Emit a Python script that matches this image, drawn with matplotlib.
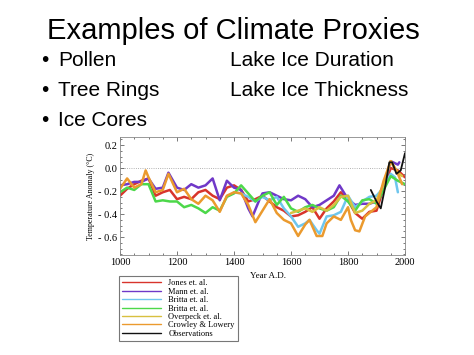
import matplotlib
matplotlib.use("Agg")
import matplotlib.pyplot as plt
from matplotlib.ticker import MultipleLocator

# ---- data ----
jones_years = [1000,1025,1050,1075,1100,1125,1150,1175,1200,1225,1250,1275,1300,1325,1350,1375,1400,1425,1450,1475,1500,1525,1550,1575,1600,1625,1650,1675,1700,1725,1750,1775,1800,1825,1850,1875,1900,1925,1950,1975,2000]
jones_vals = [-0.24,-0.18,-0.14,-0.11,-0.09,-0.24,-0.21,-0.19,-0.27,-0.25,-0.27,-0.21,-0.19,-0.24,-0.27,-0.17,-0.15,-0.19,-0.29,-0.27,-0.24,-0.29,-0.34,-0.37,-0.42,-0.41,-0.38,-0.34,-0.44,-0.35,-0.29,-0.21,-0.28,-0.39,-0.44,-0.38,-0.37,-0.17,0.0,-0.02,-0.08]

mann_years = [1000,1025,1050,1075,1100,1125,1150,1170,1200,1225,1250,1275,1300,1325,1350,1375,1400,1425,1450,1465,1490,1500,1525,1550,1575,1600,1625,1650,1675,1700,1725,1750,1770,1800,1825,1850,1875,1900,1925,1950,1975,1980]
mann_vals = [-0.15,-0.14,-0.12,-0.12,-0.09,-0.18,-0.17,-0.04,-0.17,-0.19,-0.14,-0.17,-0.15,-0.09,-0.28,-0.11,-0.17,-0.19,-0.35,-0.42,-0.27,-0.22,-0.21,-0.24,-0.27,-0.28,-0.24,-0.27,-0.34,-0.32,-0.28,-0.24,-0.15,-0.27,-0.32,-0.31,-0.31,-0.29,-0.17,0.06,0.03,0.05]

britta1_years = [1400,1425,1450,1475,1500,1525,1550,1575,1600,1625,1650,1665,1690,1700,1725,1750,1775,1800,1825,1850,1875,1900,1925,1950,1965,1975]
britta1_vals = [-0.21,-0.22,-0.25,-0.29,-0.25,-0.28,-0.25,-0.35,-0.42,-0.51,-0.48,-0.45,-0.54,-0.57,-0.42,-0.41,-0.38,-0.24,-0.34,-0.29,-0.25,-0.24,-0.17,-0.05,-0.08,-0.21]

britta2_years = jones_years
britta2_vals = [-0.21,-0.17,-0.19,-0.14,-0.14,-0.29,-0.28,-0.29,-0.29,-0.34,-0.32,-0.35,-0.39,-0.34,-0.37,-0.25,-0.22,-0.15,-0.22,-0.29,-0.24,-0.21,-0.32,-0.25,-0.35,-0.38,-0.34,-0.32,-0.35,-0.37,-0.34,-0.24,-0.29,-0.37,-0.28,-0.27,-0.31,-0.19,-0.07,-0.11,-0.14]

overpeck_years = [1600,1625,1650,1675,1700,1725,1750,1775,1800,1825,1850,1875,1900,1925,1950,1975,1990]
overpeck_vals = [-0.39,-0.37,-0.35,-0.38,-0.34,-0.37,-0.32,-0.25,-0.24,-0.39,-0.37,-0.31,-0.28,-0.14,0.06,-0.04,-0.07]

crowley_years = [1000,1025,1050,1075,1090,1100,1125,1150,1170,1200,1225,1250,1275,1300,1325,1350,1375,1400,1425,1450,1475,1500,1525,1550,1575,1600,1625,1650,1665,1690,1710,1725,1750,1775,1800,1810,1825,1840,1860,1875,1900,1925,1950,1975,1990]
crowley_vals = [-0.18,-0.09,-0.17,-0.14,-0.02,-0.08,-0.21,-0.19,-0.05,-0.21,-0.18,-0.27,-0.31,-0.24,-0.28,-0.38,-0.24,-0.21,-0.22,-0.32,-0.47,-0.37,-0.27,-0.39,-0.45,-0.48,-0.59,-0.49,-0.45,-0.59,-0.59,-0.48,-0.42,-0.45,-0.34,-0.45,-0.54,-0.55,-0.42,-0.39,-0.34,-0.11,0.06,-0.05,-0.14]

obs_years = [1880,1900,1915,1930,1945,1955,1970,1985,2000]
obs_vals = [-0.19,-0.29,-0.35,-0.17,0.05,0.05,-0.05,-0.02,0.13]

x_ticks = [1000,1200,1400,1600,1800,2000]
y_ticks = [0.2,0.0,-0.2,-0.4,-0.6]
y_ticklabels = ["0.2","0.0","- 0.2","- 0.4","- 0.6"]

series = [
    ("Jones et. al.", jones_years, jones_vals, "#d8342c"),
    ("Mann et. al.", mann_years, mann_vals, "#7038c8"),
    ("Britta et. al.", britta1_years, britta1_vals, "#6ec6ee"),
    ("Britta et. al.", britta2_years, britta2_vals, "#4cd84a"),
    ("Overpeck et. al.", overpeck_years, overpeck_vals, "#d8c040"),
    ("Crowley & Lowery", crowley_years, crowley_vals, "#eb9a2e"),
    ("Observations", obs_years, obs_vals, "#111111"),
]

fig = plt.figure(figsize=(4.74, 3.55), dpi=100)
fig.patch.set_facecolor("white")

# slide text
fig.text(233/474, 1-31/355, "Examples of Climate Proxies", ha="center", va="center",
         fontsize=21, family="Liberation Sans")
bul = dict(fontsize=15, family="Liberation Sans", va="center")
fig.text(41/474, 1-61/355, "•", **bul)
fig.text(58/474, 1-61/355, "Pollen", **bul)
fig.text(41/474, 1-91/355, "•", **bul)
fig.text(58/474, 1-91/355, "Tree Rings", **bul)
fig.text(41/474, 1-121/355, "•", **bul)
fig.text(58/474, 1-121/355, "Ice Cores", **bul)
fig.text(230/474, 1-61/355, "Lake Ice Duration", **bul)
fig.text(230/474, 1-91/355, "Lake Ice Thickness", **bul)

ax = fig.add_axes([120/474, 1-255/355, 285/474, 118/355])
ax.axhline(0, color="#999999", lw=0.6, ls=":", zorder=1)
handles = []
for name, xs, ys, c in series:
    h, = ax.plot(xs, ys, color=c, lw=1.8 if name != "Observations" else 1.3, label=name,
                 solid_joinstyle="round", solid_capstyle="round")
    handles.append(h)

ax.set_xlim(1000, 2000)
ax.set_ylim(-0.755, 0.27)
ax.set_xticks(x_ticks)
ax.set_xticklabels([str(v) for v in x_ticks])
ax.set_yticks(y_ticks)
ax.set_yticklabels(y_ticklabels)
ax.xaxis.set_minor_locator(MultipleLocator(50))
ax.yaxis.set_minor_locator(MultipleLocator(0.05))
ax.tick_params(which="both", direction="in", top=True, right=True, labelsize=7.5,
               colors="#444444", labelcolor="black", width=0.5)
ax.tick_params(which="major", length=3, pad=2)
ax.tick_params(which="minor", length=1.5)
for lab in ax.get_xticklabels() + ax.get_yticklabels():
    lab.set_family("Liberation Serif")
for s in ax.spines.values():
    s.set_color("#888888")
    s.set_linewidth(0.6)
ax.set_ylabel("Temperature Anomaly (°C)", fontsize=5.8, family="Liberation Serif")
ax.yaxis.set_label_coords(-25/285, 0.5)
ax.set_xlabel("Year A.D.", fontsize=6.5, family="Liberation Serif")
ax.xaxis.set_label_coords(148/285, -17/118)

leg = fig.legend(handles=handles, loc="upper left", bbox_to_anchor=(119/474, 1-276/355),
                 prop={"family": "Liberation Serif", "size": 6.0}, frameon=True, fancybox=False,
                 handlelength=4.6, handletextpad=0.9, labelspacing=0.05, borderpad=0.4,
                 borderaxespad=0)
leg.get_frame().set_edgecolor("#555555")
leg.get_frame().set_linewidth(0.8)
for l in leg.get_lines():
    l.set_linewidth(1.0)

fig.savefig("out.png", dpi=100, facecolor="white")
